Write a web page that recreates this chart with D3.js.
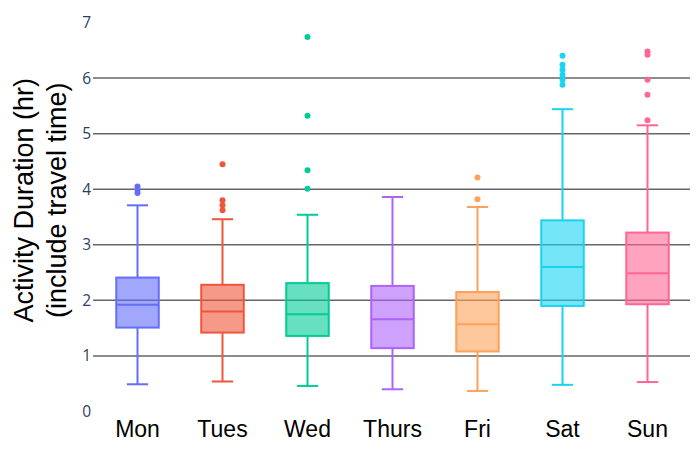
<!DOCTYPE html>
<html>
<head>
<meta charset="utf-8">
<script src="https://cdn.jsdelivr.net/npm/d3@7"></script>
<style>
  body { margin: 0; background: #fff; }
  svg { display: block; font-family: "Liberation Sans", Arial, sans-serif; }
</style>
</head>
<body>
<svg id="chart" width="700" height="452"></svg>
<script>
  // days and box stats
  var days = ['Mon', 'Tues', 'Wed', 'Thurs', 'Fri', 'Sat', 'Sun'];
  var colors = ['#636efa', '#EF553B', '#00cc96', '#ab63fa', '#FFA15A', '#19d3f3', '#FF6692'];
  var lowerWhisker = [0.49, 0.54, 0.46, 0.40, 0.37, 0.48, 0.53];
  var q1 = [1.51, 1.42, 1.36, 1.14, 1.08, 1.90, 1.93];
  var medians = [1.92, 1.80, 1.75, 1.66, 1.57, 2.60, 2.49];
  var q3 = [2.41, 2.28, 2.31, 2.26, 2.15, 3.44, 3.22];
  var upperWhisker = [3.71, 3.46, 3.54, 3.86, 3.68, 5.44, 5.15];
  var outliers = [
    [4.05, 3.99, 3.93],
    [4.45, 3.80, 3.71, 3.62],
    [6.74, 5.32, 4.34, 4.01],
    [],
    [4.21, 3.82],
    [6.40, 6.24, 6.15, 6.06, 5.97, 5.88],
    [6.48, 6.42, 5.97, 5.70, 5.24]
  ];
  var yTicks = [0, 1, 2, 3, 4, 5, 6, 7];

  var svg = d3.select('#chart');
  var margin = {left: 95, right: 10, top: 22.5, bottom: 40.5};
  var width = 700 - margin.left - margin.right;
  var height = 452 - margin.top - margin.bottom;

  var x = d3.scaleBand().domain(days).range([margin.left, margin.left + width]);
  var y = d3.scaleLinear().domain([0, 7]).range([margin.top + height, margin.top]);

  // gridlines (none at the range edges)
  svg.append('g').selectAll('line')
    .data(yTicks.filter(function(t) { return t > 0 && t < 7; }))
    .enter().append('line')
    .attr('x1', margin.left - 2)
    .attr('x2', margin.left + width)
    .attr('y1', function(d) { return y(d); })
    .attr('y2', function(d) { return y(d); })
    .attr('stroke', '#666')
    .attr('stroke-width', 1.5);

  // y axis labels
  var yAxis = d3.axisLeft(y).tickValues(yTicks).tickFormat(d3.format('d')).tickSize(0).tickPadding(3);
  var yg = svg.append('g')
    .attr('transform', 'translate(' + (margin.left - 1) + ',0)')
    .call(yAxis);
  yg.select('.domain').remove();
  yg.selectAll('text')
    .attr('font-size', 15.5)
    .attr('fill', '#2a3f5f')
    .attr('font-family', '"Open Sans", sans-serif');

  // x axis labels
  var xAxis = d3.axisBottom(x).tickSize(0).tickPadding(9);
  var xg = svg.append('g')
    .attr('transform', 'translate(0,' + (margin.top + height) + ')')
    .call(xAxis);
  xg.select('.domain').remove();
  xg.selectAll('text')
    .attr('font-size', 23)
    .attr('fill', '#000')
    .attr('font-family', '"Liberation Sans", Arial, sans-serif');

  // axis title, two lines
  var titleLines = ['Activity Duration (hr)', '(include travel time)'];
  svg.append('g').selectAll('text')
    .data(titleLines)
    .enter().append('text')
    .attr('transform', function(d, i) {
      return 'translate(' + (33 + i * 33) + ',' + y(3.8) + ') rotate(-90)';
    })
    .attr('text-anchor', 'middle')
    .attr('font-size', 27)
    .attr('fill', '#000')
    .text(function(d) { return d; });

  var boxW = x.bandwidth() * 0.5;
  var capW = boxW * 0.5;

  var boxes = svg.append('g').selectAll('g.box')
    .data(days)
    .enter().append('g')
    .attr('class', 'box')
    .attr('transform', function(d) { return 'translate(' + (x(d) + x.bandwidth() / 2) + ',0)'; });

  boxes.each(function(d, i) {
    var g = d3.select(this);
    var c = colors[i];
    // whiskers
    g.append('line')
      .attr('x1', 0).attr('x2', 0)
      .attr('y1', y(q3[i])).attr('y2', y(upperWhisker[i]))
      .attr('stroke', c).attr('stroke-width', 2);
    g.append('line')
      .attr('x1', 0).attr('x2', 0)
      .attr('y1', y(q1[i])).attr('y2', y(lowerWhisker[i]))
      .attr('stroke', c).attr('stroke-width', 2);
    g.append('line')
      .attr('x1', -capW / 2).attr('x2', capW / 2)
      .attr('y1', y(upperWhisker[i])).attr('y2', y(upperWhisker[i]))
      .attr('stroke', c).attr('stroke-width', 2);
    g.append('line')
      .attr('x1', -capW / 2).attr('x2', capW / 2)
      .attr('y1', y(lowerWhisker[i])).attr('y2', y(lowerWhisker[i]))
      .attr('stroke', c).attr('stroke-width', 2);
    // box
    g.append('rect')
      .attr('x', -boxW / 2)
      .attr('width', boxW)
      .attr('y', y(q3[i]))
      .attr('height', y(q1[i]) - y(q3[i]))
      .attr('fill', c).attr('fill-opacity', 0.6)
      .attr('stroke', c).attr('stroke-width', 2);
    g.append('line')
      .attr('x1', -boxW / 2).attr('x2', boxW / 2)
      .attr('y1', y(medians[i])).attr('y2', y(medians[i]))
      .attr('stroke', c).attr('stroke-width', 2);
    // outliers
    g.selectAll('circle')
      .data(outliers[i])
      .enter().append('circle')
      .attr('cx', 0)
      .attr('cy', function(v) { return y(v); })
      .attr('r', 3)
      .attr('fill', c);
  });
</script>
</body>
</html>
